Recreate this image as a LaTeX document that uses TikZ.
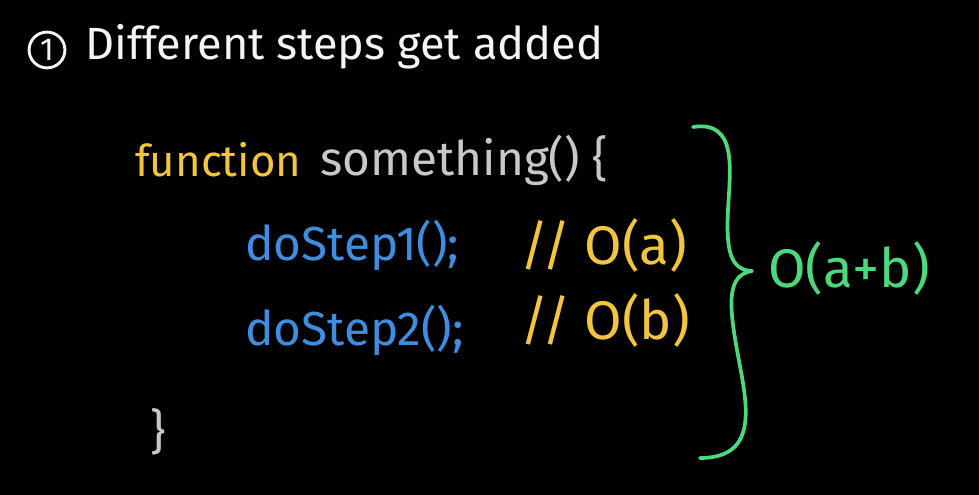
\documentclass[tikz,border=0pt]{standalone}
\usepackage{fontspec}
\setmainfont{Fira Sans}
\definecolor{hwhite}{HTML}{F4F4F4}
\definecolor{hgray}{HTML}{C8C8C8}
\definecolor{hyellow}{HTML}{F2C53D}
\definecolor{hblue}{HTML}{3D8EE0}
\definecolor{hgreen}{HTML}{4CD97B}
\begin{document}
\begin{tikzpicture}[x=0.0265cm,y=-0.0265cm,
  txt/.style={inner sep=0pt,anchor=west,font=\fontsize{36}{40}\selectfont},
  codetxt/.style={txt,font=\fontsize{36}{40}\selectfont},
  bigtxt/.style={txt,font=\fontsize{41}{46}\selectfont},
  brace/.style={draw=hgreen,line width=2.8pt,line cap=round,line join=round}]
\fill[black] (0,0) rectangle (979,495);
\useasboundingbox (0,0) rectangle (979,495);
\node[draw=hwhite,circle,line width=2.2pt,minimum size=0.95cm,inner sep=0pt,
  text=hwhite,font=\fontsize{24}{26}\selectfont] (num) at (47,50) {1};
\node[txt,text=hwhite,font=\fontsize{34}{40}\selectfont] (title) at (85,47) {Different steps get added};
\node[codetxt,text=hyellow,font=\fontsize{33}{38}\selectfont] (fn) at (135,160) {function};
\node[codetxt,text=hgray] (sig) at (320,160) {something() \{};
\node[codetxt,text=hblue] (s1) at (245,245) {doStep1();};
\node[bigtxt,text=hyellow] (c1) at (520,245) {// O(a)};
\node[codetxt,text=hblue] (s2) at (245,330) {doStep2();};
\node[bigtxt,text=hyellow] (c2) at (520,320) {// O(b)};
\node[codetxt,text=hgray] (close) at (150,432) {\}};
\coordinate (btop) at (693,127);
\coordinate (btip) at (752,271);
\coordinate (bbot) at (700,458);
\draw[brace] (btop) .. controls (738,120) and (730,170) .. (728,210)
  .. controls (726,250) and (730,270) .. (btip)
  .. controls (728,275) and (728,300) .. (737,350)
  .. controls (746,400) and (762,458) .. (bbot);
\node[bigtxt,text=hgreen] (total) at (768,268) {O(a+b)};
\end{tikzpicture}
\end{document}
